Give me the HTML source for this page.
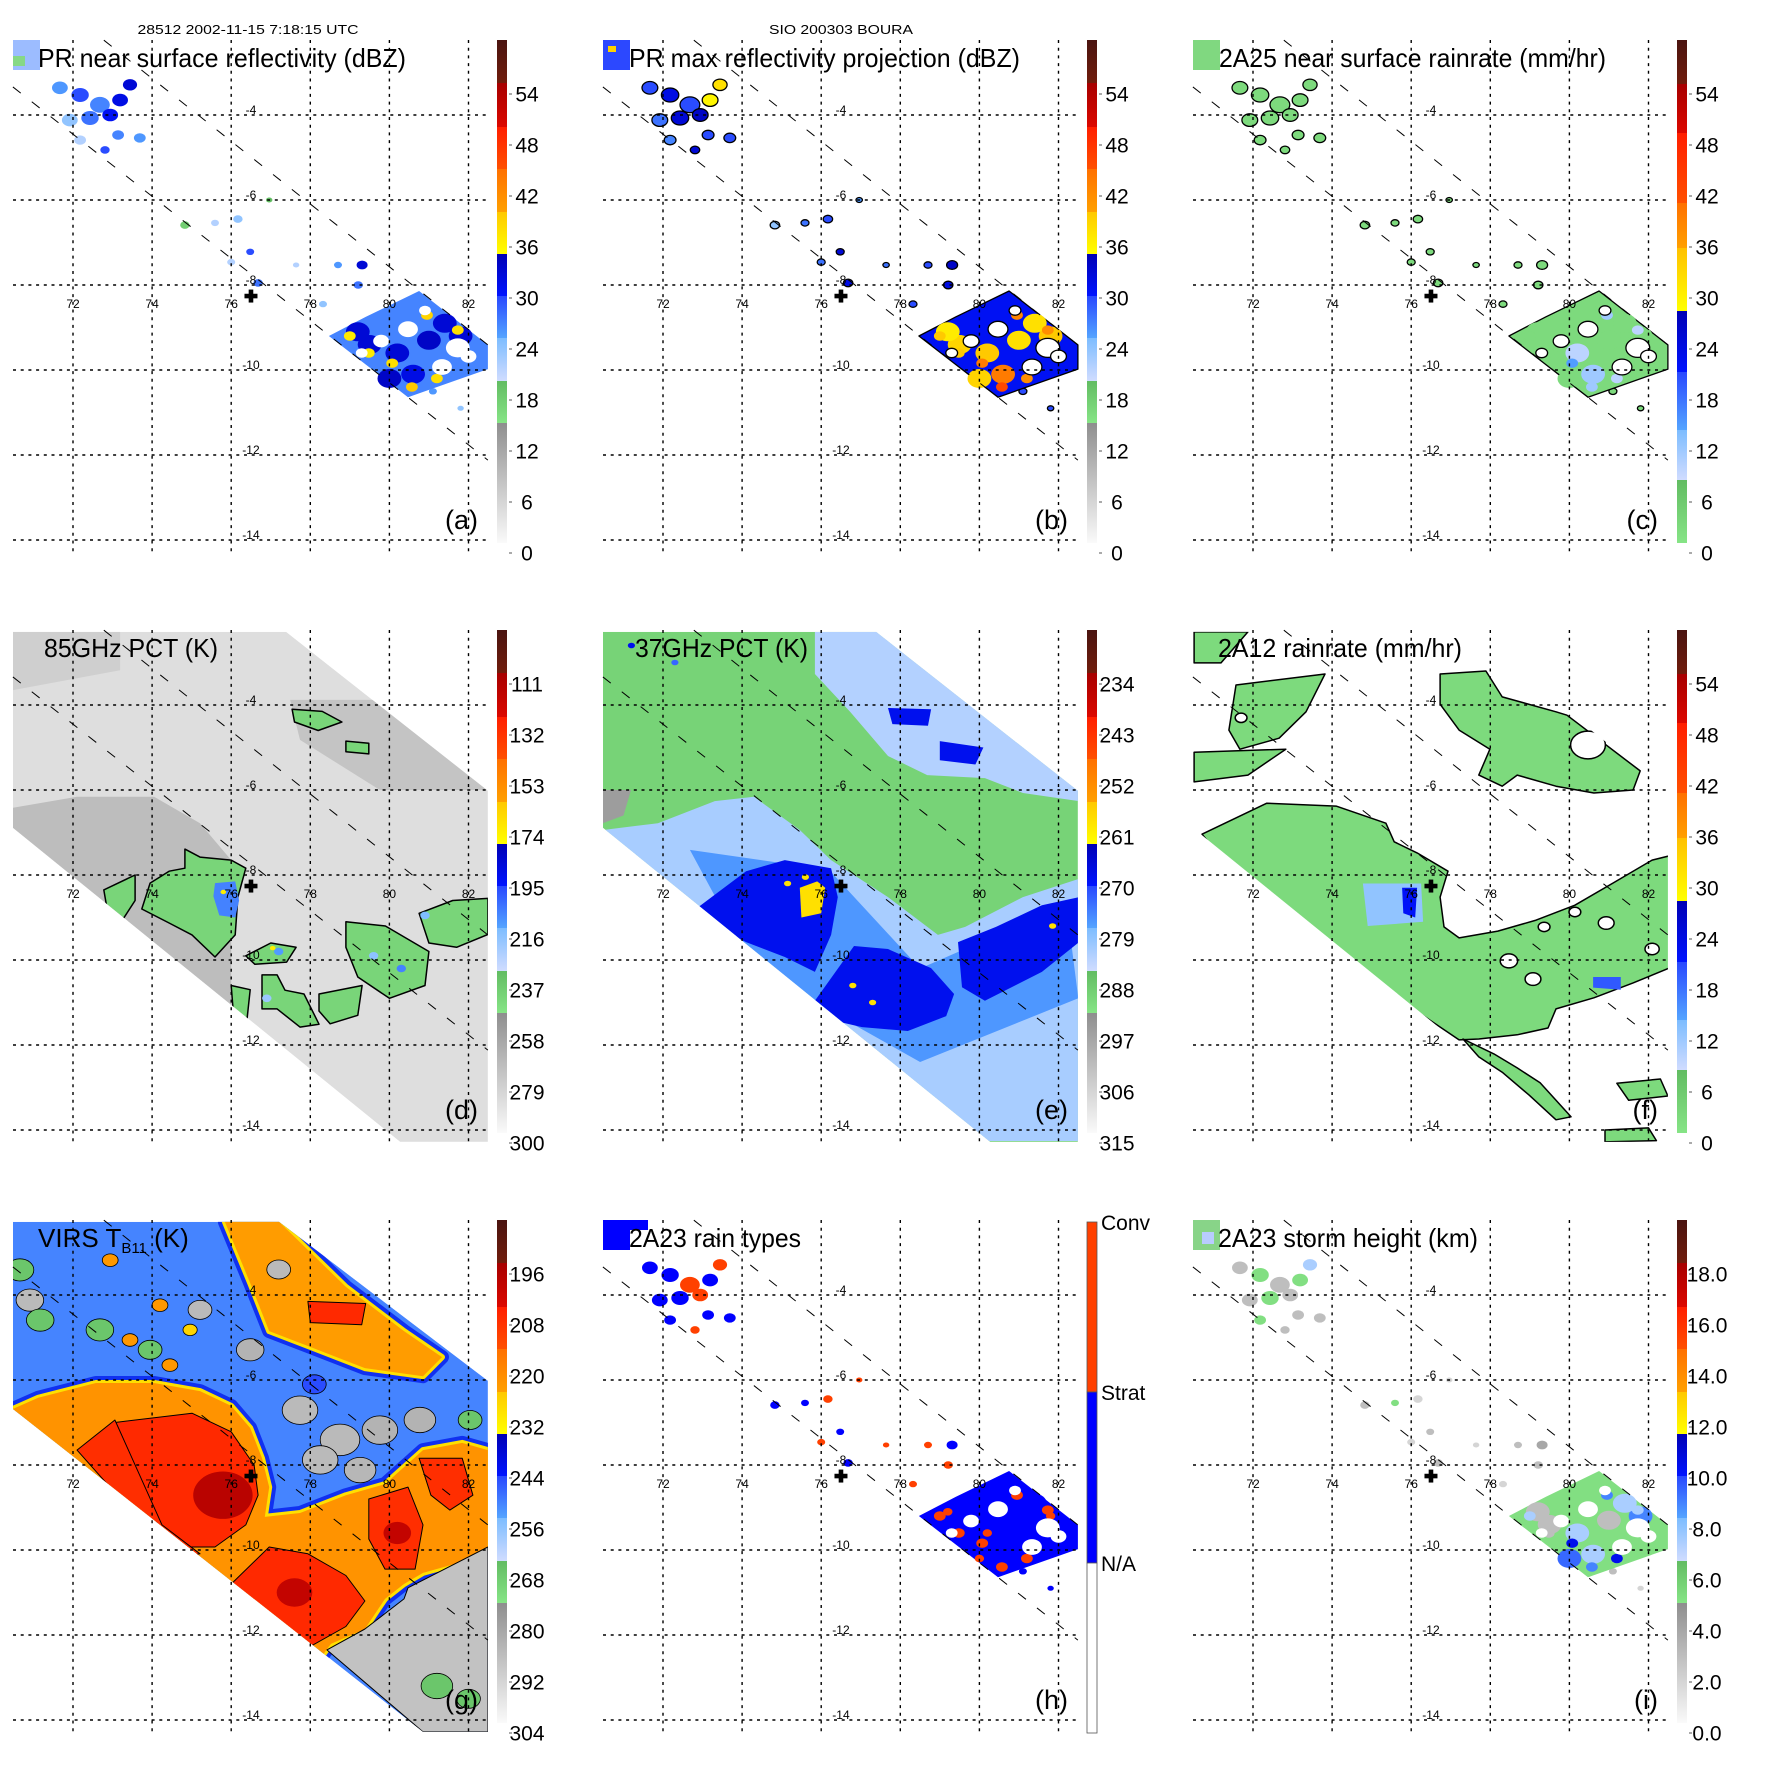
<!DOCTYPE html>
<html><head><meta charset="utf-8">
<style>
html,body{margin:0;padding:0;background:#fff;}
svg text{font-family:"Liberation Sans",Arial,sans-serif;fill:#000;}
</style></head>
<body>
<svg id="fig" xmlns="http://www.w3.org/2000/svg" width="1771" height="1771" viewBox="0 0 1771 1771">
<rect x="0" y="0" width="1771" height="1771" fill="#fff"/>
<text x="248" y="34" font-size="13" text-anchor="middle" textLength="221" lengthAdjust="spacingAndGlyphs">28512 2002-11-15 7:18:15 UTC</text>
<text x="841" y="34" font-size="13" text-anchor="middle" textLength="144" lengthAdjust="spacingAndGlyphs">SIO 200303 BOURA</text>

<g id="pa" transform="translate(0,0)">
 <g class="layers"></g>
 <rect x="13" y="40" width="27" height="30" fill="#9cbcff"/>
 <rect x="13" y="56" width="12" height="10" fill="#86d886"/>
 <text x="38" y="67" font-size="26" textLength="368" lengthAdjust="spacingAndGlyphs">PR near surface reflectivity (dBZ)</text>
 <text x="478" y="529" font-size="27" text-anchor="end">(a)</text>
</g>
<g id="pb" transform="translate(590,0)">
 <g class="layers"></g>
 <rect x="13" y="40" width="27" height="30" fill="#2c48ff"/>
 <rect x="18" y="46" width="8" height="6" fill="#ffd200"/>
 <text x="39" y="67" font-size="26" textLength="391" lengthAdjust="spacingAndGlyphs">PR max reflectivity projection (dBZ)</text>
 <text x="478" y="529" font-size="27" text-anchor="end">(b)</text>
</g>
<g id="pc" transform="translate(1180,0)">
 <g class="layers"></g>
 <rect x="13" y="40" width="27" height="30" fill="#80d880"/>
 <text x="39" y="67" font-size="26" textLength="387" lengthAdjust="spacingAndGlyphs">2A25 near surface rainrate (mm/hr)</text>
 <text x="478" y="529" font-size="27" text-anchor="end">(c)</text>
</g>
<g id="pd" transform="translate(0,590)">
 <g class="layers"></g>
 <text x="44" y="67" font-size="26" textLength="174" lengthAdjust="spacingAndGlyphs">85GHz PCT (K)</text>
 <text x="478" y="529" font-size="27" text-anchor="end">(d)</text>
</g>
<g id="pe" transform="translate(590,590)">
 <g class="layers"></g>
 <text x="45" y="67" font-size="26" textLength="173" lengthAdjust="spacingAndGlyphs">37GHz PCT (K)</text>
 <text x="478" y="529" font-size="27" text-anchor="end">(e)</text>
</g>
<g id="pf" transform="translate(1180,590)">
 <g class="layers"></g>
 <text x="38" y="67" font-size="26" textLength="244" lengthAdjust="spacingAndGlyphs">2A12 rainrate (mm/hr)</text>
 <text x="478" y="529" font-size="27" text-anchor="end">(f)</text>
</g>
<g id="pg" transform="translate(0,1180)">
 <g class="layers"></g>
 <text x="38" y="67" font-size="26">VIRS T<tspan font-size="15" dy="6">B11</tspan><tspan dy="-6"> (K)</tspan></text>
 <text x="478" y="529" font-size="27" text-anchor="end">(g)</text>
</g>
<g id="ph" transform="translate(590,1180)">
 <g class="layers"></g>
 <rect x="13" y="40" width="27" height="30" fill="#0000ff"/>
 <rect x="40" y="40" width="18" height="10" fill="#0000ff"/>
 <text x="39" y="67" font-size="26" textLength="172" lengthAdjust="spacingAndGlyphs">2A23 rain types</text>
 <text x="478" y="529" font-size="27" text-anchor="end">(h)</text>
</g>
<g id="pi" transform="translate(1180,1180)">
 <g class="layers"></g>
 <rect x="13" y="40" width="27" height="30" fill="#88d488"/>
 <rect x="22" y="52" width="12" height="12" fill="#b8ccff"/>
 <text x="38" y="67" font-size="26" textLength="260" lengthAdjust="spacingAndGlyphs">2A23 storm height (km)</text>
 <text x="478" y="529" font-size="27" text-anchor="end">(i)</text>
</g>
</svg>

<script>
// ---------- tick labels ----------
const labelsDBZ=['54','48','42','36','30','24','18','12','6','0'];
const labelsD=['111','132','153','174','195','216','237','258','279','300'];
const labelsE=['234','243','252','261','270','279','288','297','306','315'];
const labelsG=['196','208','220','232','244','256','268','280','292','304'];
const labelsI=['18.0','16.0','14.0','12.0','10.0','8.0','6.0','4.0','2.0','0.0'];
const labelsH=['Conv','Strat','N/A'];
const lonTicks=[72,74,76,78,80,82];
const latTicks=[-4,-6,-8,-10,-12,-14];
const stormLon=76.5, stormLat=-8.26;

// ---------- swath geometry ----------
const swathTMI=[[70.48,-2.28],[77.39,-2.28],[82.49,-6.02],[82.49,-14.28],[80.27,-14.28],[70.48,-6.89]];
const swathVIRS=[[70.48,-2.28],[77.21,-2.28],[82.49,-6.02],[82.49,-14.28],[80.85,-14.28],[70.48,-6.68]];
const prEdgeA=[[72.78,-2.24],[82.49,-9.41]];
const prEdgeB=[[70.48,-3.34],[82.49,-12.12]];

// ---------- PR data (shared locations) ----------
const prCore=[[78.47,-9.20],[79.4,-8.75],[80.75,-8.14],[82.49,-9.41],[82.49,-9.98],[80.47,-10.64]];
const clusterLon=[71.67,72.18,72.68,73.19,73.44,71.92,72.43,72.94,73.69,72.18,72.81,73.14];
const clusterLat=[-3.36,-3.53,-3.76,-3.65,-3.29,-4.12,-4.07,-4.00,-4.54,-4.59,-4.82,-4.47];
const clusterR=[0.2,0.22,0.25,0.2,0.18,0.2,0.22,0.2,0.15,0.15,0.12,0.15];
const midLon=[76.17,76.48,76.00,76.68,77.64,78.70,79.31,79.21,78.32,76.96,75.59,74.83,81.1,81.8];
const midLat=[-6.45,-7.22,-7.46,-7.95,-7.53,-7.53,-7.53,-8.00,-8.45,-6.00,-6.54,-6.59,-10.5,-10.9];
const midR=[0.12,0.1,0.1,0.12,0.08,0.1,0.14,0.12,0.1,0.08,0.1,0.12,0.1,0.08];
const spotLon=[79.5,80.2,81.0,81.8,80.6,79.2,81.4,80.0];
const spotLat=[-9.4,-9.6,-9.3,-9.2,-10.1,-9.1,-8.9,-10.2];
const hotLon=[80.07,80.57,81.73,79.48,80.95,81.2,79.0];
const hotLat=[-9.84,-10.4,-9.06,-9.6,-8.71,-10.2,-9.2];
const holeLon=[81.73,80.47,79.79,81.33,82.0,80.9,79.3];
const holeLat=[-9.48,-9.04,-9.32,-9.93,-9.68,-8.6,-9.6];
const holeR=[0.3,0.25,0.2,0.25,0.2,0.15,0.15];

// per-panel PR values
const aCore=27, bCore=31, cCore=3, hCore=1, iCore=5.3;
const aCluster=[26,30,27,32,33,24,28,31,26,22,30,27];
const bCluster=[30,32,30,36,38,28,33,34,30,27,33,30];
const cCluster=[3,3,3,3,3,3,3,3,3,3,3,3];
const hCluster=[1,1,2,1,2,1,1,2,1,1,2,1];
const iCluster=[3,5.3,3,5.3,7.5,3,5.3,3,3,5.3,3,3];
const aMid=[24,30,22,28,22,26,33,28,24,20,22,18,26,24];
const bMid=[30,33,28,32,28,30,34,32,30,26,28,24,30,30];
const cMid=[3,3,3,3,3,3,3,3,3,3,3,3,3,3];
const hMid=[2,1,2,1,2,2,1,2,2,2,1,1,1,1];
const iMid=[2,3,2,3,2,3,4,3,2,2,5.3,3,3,2];
const aSpot=[33,33,34,33,32,33,33,34];
const bSpot=[39,40,38,40,44,37,38,39];
const cSpot=[3,10,3,3,12,3,3,3];
const hSpot=[1,2,1,2,1,2,1,2];
const iSpot=[3,7.5,3,9,7.5,3,7.5,9.5];
const aHot=[38,40,38,37,39,38,37];
const bHot=[44,46,42,40,43,42,40];
const cHot=[15,12,10,3,12,10,3];
const hHot=[2,2,2,2,2,2,2];
const iHot=[10.5,9,7.5,3,9,10.5,7.5];

// ---------- panel d (85GHz) ----------
const dBase=283;
const dShade=[
 [[70.48,-6.42],[72.10,-6.16],[74.05,-6.16],[75.21,-6.78],[76.00,-7.65],[76.00,-11.41],[72.88,-8.71],[70.48,-6.94]],
 [[77.49,-3.88],[80.27,-3.88],[82.49,-5.29],[82.49,-6.00],[79.76,-6.00],[77.74,-4.82]],
 [[70.48,-2.28],[73.19,-2.28],[73.19,-3.18],[70.48,-3.65]]];
const dShadeVal=[268,271,276];
const dGreen=[
 [[74.83,-7.39],[75.21,-7.58],[76.00,-7.65],[76.37,-7.84],[76.17,-8.52],[76.10,-9.41],[75.59,-9.93],[75.01,-9.41],[74.43,-9.13],[73.74,-8.80],[73.95,-8.19],[74.43,-7.91],[74.83,-7.84]],
 [[72.78,-8.35],[73.57,-8.0],[73.57,-8.6],[73.2,-9.13],[72.9,-9.0]],
 [[76.78,-10.35],[77.16,-10.35],[77.36,-10.71],[77.84,-10.80],[78.22,-11.51],[77.74,-11.58],[77.16,-11.15],[76.78,-11.15]],
 [[76.37,-9.9],[77.0,-9.6],[77.64,-9.7],[77.4,-10.05],[76.6,-10.1]],
 [[78.22,-10.8],[79.31,-10.6],[79.2,-11.3],[78.5,-11.5],[78.22,-11.2]],
 [[78.90,-9.1],[79.9,-9.2],[81.0,-9.8],[80.9,-10.6],[80.0,-10.9],[79.2,-10.4],[78.9,-9.7]],
 [[80.75,-8.9],[81.6,-8.6],[82.49,-8.55],[82.49,-9.4],[81.7,-9.7],[81.0,-9.6]],
 [[77.54,-4.1],[78.3,-4.15],[78.8,-4.4],[78.2,-4.6],[77.6,-4.4]],
 [[78.9,-4.85],[79.48,-4.9],[79.48,-5.15],[78.9,-5.1]],
 [[76.0,-10.6],[76.48,-10.7],[76.4,-11.4],[76.05,-11.2]]];
const dGreenVal=[240,240,240,240,240,240,240,240,240,240];
const dCore=[[75.59,-8.19],[76.1,-8.15],[76.2,-8.6],[76.1,-9.0],[75.7,-8.95],[75.55,-8.5]];
const dCoreVal=205;
const dBlueLon=[79.6,80.3,77.2,80.9,76.9];
const dBlueLat=[-9.9,-10.2,-9.8,-8.95,-10.9];
const dBlueVal=[215,205,210,212,218];
const dHotLon=[75.8,77.05];
const dHotLat=[-8.4,-9.72];
const dHotVal=[172,172];

// ---------- panel e (37GHz) ----------
const eBase=289;
const eRegions=[
 [[75.84,-2.28],[77.41,-2.28],[82.52,-6.02],[82.52,-6.26],[81.10,-6.07],[80.14,-5.72],[78.68,-5.65],[77.69,-5.20],[76.73,-4.16],[75.84,-3.27]],
 [[70.48,-6.94],[71.87,-6.78],[73.31,-6.26],[74.30,-6.16],[75.46,-6.94],[76.25,-7.65],[77.69,-8.52],[78.95,-9.41],[79.64,-9.22],[81.10,-8.52],[82.52,-8.09],[82.52,-14.26],[80.04,-14.26]],
 [[72.68,-7.41],[76.2,-7.88],[78.5,-10.2],[82.2,-8.7],[82.5,-10.9],[78.5,-12.4],[74.3,-10.2]],
 [[77.69,-4.07],[78.78,-4.1],[78.7,-4.49],[77.8,-4.45]],
 [[79.0,-4.85],[80.1,-5.0],[79.9,-5.4],[79.0,-5.3]],
 [[72.83,-8.80],[74.10,-7.91],[75.08,-7.65],[76.25,-7.84],[76.42,-8.52],[76.25,-9.41],[75.84,-10.28],[75.08,-9.93],[74.10,-9.58],[73.31,-9.22]],
 [[75.84,-10.96],[76.83,-9.67],[77.69,-9.74],[78.78,-10.19],[79.36,-10.80],[79.16,-11.32],[78.19,-11.67],[77.03,-11.58],[76.25,-11.41]],
 [[79.46,-9.58],[80.42,-9.22],[81.58,-8.71],[82.52,-8.52],[82.52,-9.58],[81.58,-10.28],[80.14,-10.96],[79.56,-10.64]],
 [[75.46,-8.3],[75.9,-8.15],[76.1,-8.3],[76.0,-8.9],[75.5,-9.0]],
 [[70.48,-6.0],[71.19,-6.0],[71.0,-6.6],[70.48,-6.78]]];
const eRegionVal=[282,281,276,268,268,268,268,268,258,295];
const eSpotLon=[75.15,75.6,76.8,81.85,77.3,72.3,71.2];
const eSpotLat=[-8.2,-8.05,-10.6,-9.2,-11.0,-3.0,-2.6];
const eSpotVal=[258,258,258,258,258,272,268];

// ---------- panel f (2A12) ----------
const fRain=[
 [[70.71,-7.04],[72.35,-6.31],[74.10,-6.38],[75.36,-6.78],[75.57,-7.22],[76.15,-7.48],[76.93,-7.91],[76.73,-8.52],[76.83,-9.22],[77.21,-9.48],[78.19,-9.32],[79.16,-9.06],[80.14,-8.71],[81.10,-8.19],[82.09,-7.65],[82.52,-7.55],[82.52,-10.19],[81.61,-10.54],[80.62,-10.89],[79.66,-11.15],[79.46,-11.60],[78.68,-11.76],[77.71,-11.86],[77.21,-11.88],[76.05,-11.15],[73.82,-9.84],[71.87,-8.35]],
 [[77.31,-11.86],[78.09,-12.21],[78.68,-12.54],[79.26,-12.89],[80.04,-13.69],[79.66,-13.76],[78.98,-13.18],[78.30,-12.64],[77.71,-12.28]],
 [[70.51,-2.28],[71.87,-2.28],[71.19,-3.01],[70.51,-3.01]],
 [[71.57,-3.53],[73.82,-3.27],[73.34,-4.16],[72.66,-4.78],[71.67,-5.04],[71.39,-4.59]],
 [[70.51,-5.11],[72.83,-5.04],[71.87,-5.65],[70.51,-5.81]],
 [[76.73,-3.27],[77.89,-3.20],[78.30,-3.81],[79.66,-4.16],[79.94,-4.24],[81.79,-5.55],[81.61,-6.00],[80.62,-6.07],[79.66,-5.91],[78.68,-5.65],[78.30,-5.91],[77.71,-5.65],[77.99,-5.04],[77.21,-4.59],[76.73,-3.98]],
 [[81.2,-12.9],[82.3,-12.8],[82.49,-13.2],[81.5,-13.3]],
 [[80.9,-14.0],[82.0,-13.95],[82.2,-14.25],[80.9,-14.28]]];
const fRainVal=[3,3,3,3,3,3,3,3];
const fBlue=[
 [[74.78,-8.2],[76.25,-8.2],[76.3,-9.1],[74.9,-9.2]],
 [[75.77,-8.3],[76.15,-8.3],[76.1,-9.0],[75.8,-8.9]],
 [[80.6,-10.4],[81.3,-10.4],[81.3,-10.7],[80.6,-10.65]]];
const fBlueVal=[13,22,20];
const fHoleLon=[80.47,78.47,79.08,80.93,82.09,80.14,79.36,71.7];
const fHoleLat=[-4.94,-10.02,-10.45,-9.13,-9.74,-8.87,-9.22,-4.3];
const fHoleR=[0.44,0.22,0.2,0.2,0.18,0.15,0.15,0.15];

// ---------- panel g (VIRS) ----------
const gBase=250;
const gWarm=[
 [[70.48,-6.68],[71.12,-6.42],[72.58,-6.07],[74.05,-6.07],[75.21,-6.26],[76.00,-6.61],[76.48,-7.13],[76.78,-7.84],[76.96,-8.52],[76.85,-9.22],[77.74,-9.13],[78.90,-8.71],[79.89,-8.45],[80.85,-7.65],[81.84,-7.48],[82.49,-7.65],[82.49,-9.93],[81.84,-10.28],[80.85,-10.54],[80.37,-10.80],[79.89,-11.15],[79.38,-11.86],[78.52,-12.21],[78.22,-12.59],[70.48,-12.59]],
 [[75.84,-2.28],[77.21,-2.28],[78.90,-3.81],[80.37,-4.85],[81.33,-5.46],[80.85,-5.91],[79.38,-5.72],[77.94,-5.20],[76.96,-4.85],[76.48,-3.72]]];
const gWarmVal=[221,223];
const gGray=[[80.47,-10.89],[82.49,-9.93],[82.49,-14.28],[80.85,-14.28],[78.42,-12.35],[79.38,-11.86],[80.37,-11.15]];
const gGrayVal=287;
const gRed=[
 [[73.06,-7.00],[75.01,-6.78],[76.00,-7.22],[76.58,-8.00],[76.68,-8.71],[76.37,-9.41],[75.59,-9.93],[74.53,-9.93],[73.85,-8.96],[73.06,-8.19]],
 [[72.10,-7.65],[73.06,-6.94],[74.25,-9.41],[75.21,-10.09],[74.53,-10.19]],
 [[76.00,-10.80],[76.96,-9.93],[77.94,-10.09],[78.90,-10.60],[79.38,-11.20],[78.90,-11.80],[77.94,-12.30],[76.96,-11.60],[76.17,-11.10]],
 [[79.48,-8.80],[80.47,-8.52],[80.85,-9.41],[80.65,-10.45],[79.89,-10.45],[79.48,-9.74]],
 [[80.75,-7.84],[81.84,-7.84],[82.11,-8.71],[81.53,-9.06],[81.05,-8.71]],
 [[77.94,-4.15],[79.4,-4.2],[79.3,-4.7],[78.0,-4.65]]];
const gRedVal=[206,207,206,207,207,206];
const gCoreLon=[75.79,77.6,80.2];
const gCoreLat=[-8.71,-11.0,-9.6];
const gCoreR=[0.75,0.45,0.35];
const gCoreVal=[197,199,199];
const gPatchLon=[77.74,78.75,79.76,78.25,79.26,80.77,70.91,72.68,75.21,76.48,73.95,70.66,71.17,82.04,81.2,82.0,72.94,74.2,73.44,74.96,74.45,77.2,78.1];
const gPatchLat=[-6.71,-7.41,-7.18,-7.88,-8.12,-6.94,-4.12,-4.82,-4.35,-5.29,-5.29,-3.41,-4.59,-6.94,-13.2,-13.5,-3.18,-4.24,-5.06,-4.82,-5.65,-3.4,-6.1];
const gPatchR=[0.45,0.5,0.45,0.45,0.4,0.4,0.35,0.35,0.3,0.35,0.3,0.35,0.35,0.3,0.4,0.3,0.2,0.2,0.2,0.18,0.2,0.3,0.3];
const gPatchVal=[285,285,283,285,284,283,285,266,285,283,266,266,266,266,266,266,222,222,222,226,222,285,244];

// ---------- helpers ----------
const NS='http://www.w3.org/2000/svg';
const X=lon=>73+(lon-72)*39.55;
const Y=lat=>115+(-4-lat)*42.5;
const DEG=39.55;
const bandsA=[[40,83,'#4a1410','#701c0c'],[83,127,'#a60000','#dc0800'],[127,169,'#ff1e00','#ff5000'],[169,212,'#ff7000','#ffa000'],[212,254,'#ffc800','#ffff00'],[254,296,'#0000b4','#0014ff'],[296,338,'#2848ff','#54a4ff'],[338,381,'#7cbcff','#d0dcff'],[381,423,'#62bc62','#86e486'],[423,543,'#8e8e8e','#fafafa']];
const bandsC=[[40,84,'#4a1410','#701c0c'],[84,133,'#a60000','#dc0800'],[133,203,'#ff1e00','#ff5000'],[203,248,'#ff7000','#ffa000'],[248,311,'#ffc000','#ffff00'],[311,372,'#0000b4','#0014ff'],[372,430,'#2848ff','#54a4ff'],[430,480,'#7cbcff','#d0dcff'],[480,543,'#62bc62','#86e486']];
function hx(c){return [1,3,5].map(i=>parseInt(c.substr(i,2),16));}
function mix(a,b,t){const A=hx(a),B=hx(b);return 'rgb('+A.map((v,i)=>Math.round(v+(B[i]-v)*t)).join(',')+')';}
function colorAt(bands,y){if(y<bands[0][0])return bands[0][2];for(const b of bands){if(y<=b[1]){const t=Math.max(0,Math.min(1,(y-b[0])/(b[1]-b[0])));return mix(b[2],b[3],t);}}const l=bands[bands.length-1];return l[3];}
function mk(tag,attrs){const e=document.createElementNS(NS,tag);for(const k in attrs)e.setAttribute(k,attrs[k]);return e;}
function pts(list){return list.map(q=>X(q[0]).toFixed(1)+','+Y(q[1]).toFixed(1)).join(' ');}
function poly(g,list,fill,stroke,sw,name){
  const p=mk('polygon',{points:pts(list),fill:fill,stroke:stroke||'none','stroke-width':sw||0,'stroke-linejoin':'round'});
  
  
  g.appendChild(p);return p;
}
function blob(g,lon,lat,r,fill,stroke,sw,name){
  const e=mk('ellipse',{cx:X(lon).toFixed(1),cy:Y(lat).toFixed(1),rx:(r*DEG).toFixed(1),ry:(r*DEG*0.8).toFixed(1),fill:fill,stroke:stroke||'none','stroke-width':sw||0});
  
  
  g.appendChild(e);return e;
}
function group(parent,name,clip){
  const g=mk('g',clip?{'clip-path':'url(#'+clip+')'}:{});
  
  
  parent.appendChild(g);return g;
}
const defs=mk('defs',{});


document.getElementById('fig').insertBefore(defs,document.getElementById('fig').children[1]);
function gradient(id,bands){
  const lg=mk('linearGradient',{id:id,x1:0,y1:0,x2:0,y2:1});
  
  
  for(const b of bands){
    for(const k of [0,1]){
      const s=mk('stop',{offset:((b[k]-40)/503).toFixed(4),'stop-color':b[2+k]});
      
      
      lg.appendChild(s);
    }
  }
  defs.appendChild(lg);
}
gradient('cbA',bandsA);gradient('cbC',bandsC);
function clipDef(id,list){
  const cp=mk('clipPath',{id:id});
  
  
  let sh;
  if(list){sh=mk('polygon',{points:pts(list)});}else{sh=mk('rect',{x:13,y:40,width:476,height:512});}
  
  
  cp.appendChild(sh);defs.appendChild(cp);
}
clipDef('mapclip',null);clipDef('tmiclip',swathTMI);clipDef('virsclip',swathVIRS);

function layers(id){return document.querySelector('#'+id+' .layers');}

function overlays(L,labels,bandId,isH){
  for(const e of [prEdgeA,prEdgeB]){
    const ln=mk('line',{x1:X(e[0][0]),y1:Y(e[0][1]),x2:X(e[1][0]),y2:Y(e[1][1]),stroke:'#000','stroke-width':1,'stroke-dasharray':'10,14'});
    
    
    L.appendChild(ln);
  }
  for(const lon of lonTicks){
    const ln=mk('line',{x1:X(lon),y1:40,x2:X(lon),y2:552,stroke:'#000','stroke-width':1.4,'stroke-dasharray':'3,4.7'});
    
    
    L.appendChild(ln);
    const t=mk('text',{x:X(lon),y:308,'font-size':12,'text-anchor':'middle'});
    
    
    t.textContent=String(lon);L.appendChild(t);
  }
  for(const lat of latTicks){
    const ln=mk('line',{x1:13,y1:Y(lat),x2:489,y2:Y(lat),stroke:'#000','stroke-width':1.4,'stroke-dasharray':'3,4.7'});
    
    
    L.appendChild(ln);
    const t=mk('text',{x:X(76.5),y:Y(lat)-1,'font-size':12,'text-anchor':'middle'});
    
    
    t.textContent=String(lat);L.appendChild(t);
  }
  const cx=X(stormLon),cy=Y(stormLat);
  const c1=mk('rect',{x:cx-6.5,y:cy-2.3,width:13,height:4.6,fill:'#000'});
  
  
  L.appendChild(c1);
  const c2=mk('rect',{x:cx-2.3,y:cy-6.5,width:4.6,height:13,fill:'#000'});
  
  
  L.appendChild(c2);
  if(isH){
    const segs=[[42,212,'#ff4000'],[212,383,'#0000ff'],[383,553,'#ffffff']];
    for(const s of segs){
      const r=mk('rect',{x:497,y:s[0],width:10,height:s[1]-s[0],fill:s[2],stroke:'#555','stroke-width':0.8});
      
      
      L.appendChild(r);
    }
    const ys=[42,212,383];
    labels.forEach((lab,i)=>{
      const t=mk('text',{x:511,y:ys[i]+8,'font-size':21});
      
      
      t.textContent=lab;L.appendChild(t);
    });
    return;
  }
  const r=mk('rect',{x:497,y:40,width:10,height:503,fill:'url(#'+bandId+')'});
  
  
  L.appendChild(r);
  labels.forEach((lab,i)=>{
    const yc=94+i*51;
    const tk=mk('line',{x1:509,y1:yc,x2:512,y2:yc,stroke:'#555','stroke-width':1});
    
    
    L.appendChild(tk);
    const t=mk('text',{x:527,y:yc+7.5,'font-size':21,'text-anchor':'middle'});
    
    
    t.textContent=lab;L.appendChild(t);
  });
}

// value -> colour per panel (dec: labels decrease downward, inc: increase downward)
const cfDec=(bands,top,step)=>v=>colorAt(bands,94+(top-v)/step*51);
const cfInc=(bands,top,step)=>v=>colorAt(bands,94+(v-top)/step*51);
const colA=cfDec(bandsA,54,6), colC=cfDec(bandsC,54,6), colI=cfDec(bandsA,18,2);
const colD=cfInc(bandsA,111,21), colE=cfInc(bandsA,234,9), colG=cfInc(bandsA,196,12);
const colH=v=>v===2?'#ff4000':'#0000ff';

// ---------- PR panels ----------
function drawPR(id,col,core,cluster,mid,spot,hot,outline){
  const L=layers(id);
  const g=group(L,'pr-data','mapclip');
  const st=outline?'#000':'none', sw=outline?1.3:0;
  clusterLon.forEach((lon,i)=>blob(g,lon,clusterLat[i],clusterR[i],col(cluster[i]),st,sw,'rain-cell'));
  midLon.forEach((lon,i)=>blob(g,lon,midLat[i],midR[i],col(mid[i]),st,sw,'rain-cell'));
  poly(g,prCore,col(core),st,sw,'rain-area');
  spotLon.forEach((lon,i)=>blob(g,lon,spotLat[i],id==='ph'&&spot[i]===2?0.12:0.3,col(spot[i]),'none',0,'rain-core'));
  hotLon.forEach((lon,i)=>blob(g,lon,hotLat[i],0.15,col(hot[i]),'none',0,'intense-cell'));
  holeLon.forEach((lon,i)=>blob(g,lon,holeLat[i],holeR[i],'#fff',st,sw,'rain-free-hole'));
  return L;
}
overlays(drawPR('pa',colA,aCore,aCluster,aMid,aSpot,aHot,false),labelsDBZ,'cbA');
overlays(drawPR('pb',colA,bCore,bCluster,bMid,bSpot,bHot,true),labelsDBZ,'cbA');
overlays(drawPR('pc',colC,cCore,cCluster,cMid,cSpot,cHot,true),labelsDBZ,'cbC');
overlays(drawPR('ph',colH,hCore,hCluster,hMid,hSpot,hHot,false),labelsH,null,true);
overlays(drawPR('pi',colI,iCore,iCluster,iMid,iSpot,iHot,false),labelsI,'cbA');

// ---------- panel d ----------
(function(){
  const L=layers('pd');
  const g=group(group(L,'tmi-85ghz','mapclip'),'swath','tmiclip');
  poly(g,swathTMI,colD(dBase),'none',0,'tmi-swath');
  dShade.forEach((r,i)=>poly(g,r,colD(dShadeVal[i]),'none',0,'cold-region'));
  dGreen.forEach((r,i)=>poly(g,r,colD(dGreenVal[i]),'#000',1.5,'scattering-region'));
  poly(g,dCore,colD(dCoreVal),'none',0,'strong-scattering-core');
  dBlueLon.forEach((lon,i)=>blob(g,lon,dBlueLat[i],0.12,colD(dBlueVal[i]),'none',0,'scattering-cell'));
  dHotLon.forEach((lon,i)=>blob(g,lon,dHotLat[i],0.07,colD(dHotVal[i]),'none',0,'intense-cell'));
  overlays(L,labelsD,'cbA');
})();

// ---------- panel e ----------
(function(){
  const L=layers('pe');
  const g=group(group(L,'tmi-37ghz','mapclip'),'swath','tmiclip');
  poly(g,swathTMI,colE(eBase),'none',0,'tmi-swath');
  eRegions.forEach((r,i)=>poly(g,r,colE(eRegionVal[i]),'none',0,'pct-region'));
  eSpotLon.forEach((lon,i)=>blob(g,lon,eSpotLat[i],0.09,colE(eSpotVal[i]),'none',0,'pct-cell'));
  overlays(L,labelsE,'cbA');
})();

// ---------- panel f ----------
(function(){
  const L=layers('pf');
  const g=group(group(L,'tmi-rainrate','mapclip'),'swath','tmiclip');
  fRain.forEach((r,i)=>poly(g,r,colC(fRainVal[i]),'#000',1.5,'rain-region'));
  fBlue.forEach((r,i)=>poly(g,r,colC(fBlueVal[i]),'none',0,'heavy-rain'));
  fHoleLon.forEach((lon,i)=>blob(g,lon,fHoleLat[i],fHoleR[i],'#fff','#000',1.5,'rain-free-hole'));
  overlays(L,labelsDBZ,'cbC');
})();

// ---------- panel g ----------
(function(){
  const L=layers('pg');
  const g=group(group(L,'virs-ir','mapclip'),'swath','virsclip');
  poly(g,swathVIRS,colG(gBase),'none',0,'virs-swath');
  gWarm.forEach((r,i)=>{
    poly(g,r,'#1030f0','#1030f0',14,'cloud-edge');
    poly(g,r,'#ffe000','#ffe000',6,'cloud-edge-inner');
    poly(g,r,colG(gWarmVal[i]),'none',0,'cold-cloud');
  });
  poly(g,gGray,colG(gGrayVal),'#000',1,'clear-region');
  gRed.forEach((r,i)=>poly(g,r,colG(gRedVal[i]),'#000',1,'very-cold-cloud'));
  gCoreLon.forEach((lon,i)=>blob(g,lon,gCoreLat[i],gCoreR[i],colG(gCoreVal[i]),'none',0,'coldest-core'));
  gPatchLon.forEach((lon,i)=>blob(g,lon,gPatchLat[i],gPatchR[i],colG(gPatchVal[i]),'#000',0.8,'cloud-patch'));
  overlays(L,labelsG,'cbA');
})();
</script>
</body></html>
